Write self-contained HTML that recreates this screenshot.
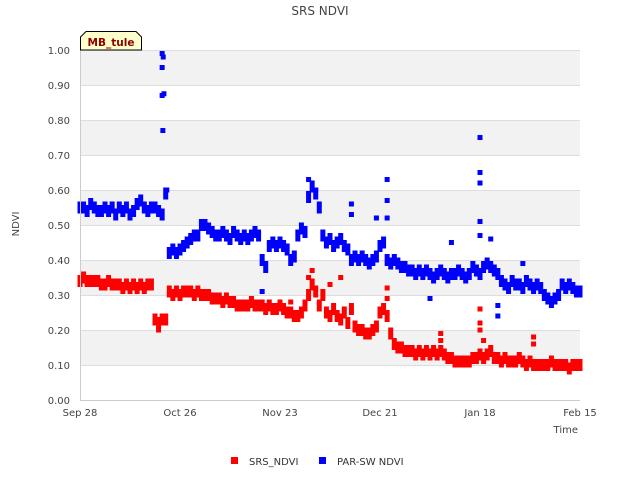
<!DOCTYPE html>
<html><head><meta charset="utf-8"><style>
body{margin:0;background:#fff;font-family:"DejaVu Sans","Liberation Sans",sans-serif;}
</style></head><body>
<svg id="chart" width="640" height="480" xmlns="http://www.w3.org/2000/svg" font-family="DejaVu Sans, Liberation Sans, sans-serif">
<text x="320" y="15" text-anchor="middle" font-size="12" fill="#444">SRS NDVI</text>
<g id="bands"></g><g id="grid"></g><g id="marks"></g><g id="axes"></g>
<g>
<path d="M80.5,50 L80.5,37 L86,31.5 L136,31.5 L141.5,37 L141.5,50 Z" fill="#ffffcc" stroke="#000"/>
<text x="111" y="46" text-anchor="middle" font-size="10.5" font-weight="bold" fill="#8b0000">MB_tule</text>
</g>
<text x="19" y="224" font-size="10" fill="#444" text-anchor="middle" transform="rotate(-90 19 224)">NDVI</text>
<text x="578" y="433" font-size="10" fill="#444" text-anchor="end">Time</text>
<g>
<g><rect x="231" y="457" width="7" height="7" fill="#f00"/><text x="249" y="465" font-size="10" fill="#333">SRS_NDVI</text></g>
<g><rect x="319" y="457" width="7" height="7" fill="#00f"/><text x="337" y="465" font-size="10" fill="#333">PAR-SW NDVI</text></g>
</g>
</svg>
<script>
const xTickLabels=["Sep 28","Oct 26","Nov 23","Dec 21","Jan 18","Feb 15"];
const xTickDays=[0,28,56,84,112,140];
const yTicks=[0,0.1,0.2,0.3,0.4,0.5,0.6,0.7,0.8,0.9,1.0];
const srs=[0.34,0.35,0.34,0.34,0.34,0.34,0.33,
0.33,0.34,0.33,0.33,0.33,0.32,0.33,0.32,0.33,0.32,0.33,0.32,0.33,0.33,
0.23,0.22,0.23,0.23,
0.31,0.30,0.31,0.30,0.31,0.31,0.31,0.30,0.31,0.30,0.30,0.30,0.29,0.29,0.29,0.28,0.29,0.28,0.28,0.27,0.27,
0.27,0.27,0.28,0.27,0.27,0.27,0.26,0.27,0.26,0.26,0.27,0.26,0.25,0.25,0.24,0.24,0.25,
0.27,0.30,0.33,0.31,
0.27,0.30,0.25,0.24,0.26,0.24,0.23,0.25,0.22,0.26,
0.21,0.20,0.20,0.19,0.19,0.20,0.21,
0.25,0.26,0.24,0.19,
0.16,0.15,0.15,0.14,0.14,0.14,0.13,0.14,
0.13,0.14,0.13,0.14,0.13,0.14,0.13,
0.12,0.12,0.11,0.11,0.11,0.11,0.11,0.12,0.12,
0.13,0.12,0.13,0.14,0.12,0.12,0.11,
0.12,0.11,0.11,0.11,0.12,0.11,0.10,0.11,
0.10,0.10,0.10,0.10,0.10,0.11,0.10,0.10,0.10,0.10,0.09,0.10,0.10,0.10];
const par=[0.55,0.55,0.54,0.56,0.55,0.54,0.54,0.55,0.54,0.55,0.53,0.55,0.54,0.55,0.53,0.54,0.56,0.57,0.55,0.54,0.55,
0.55,0.54,0.53,
0.59,
0.42,0.43,0.42,0.43,0.44,
0.45,0.46,0.47,0.47,0.50,
0.50,0.49,0.48,0.47,0.47,0.48,0.47,0.46,0.48,0.47,0.46,0.47,0.46,0.47,0.48,0.47,
0.40,0.38,
0.44,0.45,0.44,0.45,0.44,0.43,
0.40,0.41,0.47,
0.49,0.48,
0.58,0.61,0.59,0.55,
0.47,0.45,0.46,0.44,0.45,0.46,0.44,
0.43,0.40,
0.41,0.40,0.41,0.40,0.39,0.40,0.41,0.44,
0.45,0.40,0.39,
0.40,0.39,0.38,0.38,0.37,0.37,0.36,0.37,
0.36,0.37,0.36,0.35,0.36,0.37,0.36,0.35,0.36,0.36,0.37,0.36,0.35,0.36,
0.38,0.37,0.36,0.38,0.39,0.38,0.37,0.36,0.34,
0.33,0.32,0.34,0.33,0.33,0.32,0.34,0.33,0.32,0.33,0.32,0.30,
0.29,0.28,0.29,0.30,
0.33,0.32,0.33,0.32,0.31,0.31];
const parOutDays=[23,23.3,23,23,23.5,23.2,24.3,51,64,66,76,76,86,86,86,83,112,112,112,112,112,115,117,117,124,104,98];
const parOutVals=[0.99,0.98,0.95,0.87,0.875,0.77,0.60,0.31,0.63,0.60,0.56,0.53,0.63,0.57,0.52,0.52,0.75,0.65,0.62,0.51,0.47,0.46,0.27,0.24,0.39,0.45,0.29];
const srsOutDays=[65,64,70,73,86,86,101,101,112,112,112,113,127,127,22,59];
const srsOutVals=[0.37,0.35,0.33,0.35,0.32,0.29,0.19,0.17,0.26,0.22,0.20,0.17,0.18,0.16,0.20,0.28];

const X0=80,X1=580,Y0=400,Y1=50,DAYS=140;
const xs=d=>X0+d*(X1-X0)/DAYS;
const ys=v=>Y0-v*(Y0-Y1);
const NS="http://www.w3.org/2000/svg";
function mk(tag,parent,attrs){const e=document.createElementNS(NS,tag);for(const k in attrs)e.setAttribute(k,attrs[k]);document.getElementById(parent).appendChild(e);return e;}
for(let i=0;i<10;i++){if(i%2===0){const r=mk('rect','bands',{x:X0,y:ys(1-i*0.1),width:X1-X0,height:ys(0.9-i*0.1)-ys(1-i*0.1),fill:'#f2f2f2'});

}}
yTicks.forEach(v=>{const l=mk('line','grid',{x1:X0,x2:X1,y1:ys(v)+0.5,y2:ys(v)+0.5,stroke:'#ddd'});


const t=mk('text','axes',{x:X0-10,y:ys(v)+4,'text-anchor':'end','font-size':'10',fill:'#444'});t.textContent=v.toFixed(2);

});
const ax=mk('line','axes',{x1:X0+0.5,x2:X0+0.5,y1:Y1,y2:Y0,stroke:'#ccc'});


const bx=mk('line','axes',{x1:X0,x2:X1,y1:Y0+0.5,y2:Y0+0.5,stroke:'#ccc'});


xTickDays.forEach((d,i)=>{const t=mk('text','axes',{x:xs(d),y:Y0+16,'text-anchor':'middle','font-size':'10',fill:'#444'});t.textContent=xTickLabels[i];

});
function pt(d,v,c,name,h){const r=mk('rect','marks',{x:xs(d)-2.5,y:ys(v)-h/2,width:5,height:h,fill:c});

}
par.forEach((v,d)=>pt(d,v,'#00f','par-point',12));
parOutDays.forEach((d,i)=>pt(d,parOutVals[i],'#00f','par-point',5));
srs.forEach((v,d)=>pt(d,v,'#f00','srs-point',12));
srsOutDays.forEach((d,i)=>pt(d,srsOutVals[i],'#f00','srs-point',5));
</script>
</body></html>
